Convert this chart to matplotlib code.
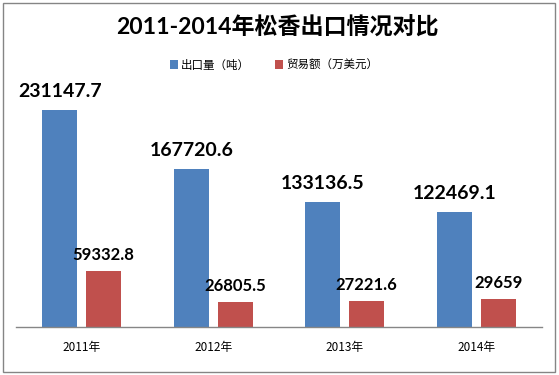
import matplotlib.pyplot as plt
import matplotlib.patches as mpatches
import numpy as np

years = ['2011年', '2012年', '2013年', '2014年']
export_qty = [231147.7, 167720.6, 133136.5, 122469.1]
trade_value = [59332.8, 26805.5, 27221.6, 29659]
qty_labels = ['231147.7', '167720.6', '133136.5', '122469.1']
value_labels = ['59332.8', '26805.5', '27221.6', '29659']

W, H = 559, 375
fig = plt.figure(figsize=(W / 100, H / 100), dpi=100)

# chart frame
frame = mpatches.Rectangle((3 / W, 1 - 372 / H), 552 / W, 369 / H, transform=fig.transFigure,
                           facecolor='white', edgecolor='#858585', lw=1.0, zorder=1)
fig.patches.append(frame)

ax = fig.add_axes([16 / W, 48 / H, 526 / W, 235 / H])
ax.set_facecolor('none')
ax.set_zorder(2)

x = np.arange(len(years))
bw = 0.266
off = 0.167
b1 = ax.bar(x - off, export_qty, bw, color='#4F81BD', label='出口量（吨）')
b2 = ax.bar(x + off, trade_value, bw, color='#C0504D', label='贸易额（万美元）')

for xi, v, s in zip(x, export_qty, qty_labels):
    ax.annotate(s, (xi - off, v), xytext=(0, 9.4), textcoords='offset points',
                ha='center', va='baseline', fontsize=14, fontweight='bold',
                family=['Lato', 'DejaVu Sans'])
for xi, v, s in zip(x, trade_value, value_labels):
    ax.annotate(s, (xi + off, v), xytext=(0, 7.9), textcoords='offset points',
                ha='center', va='baseline', fontsize=12, fontweight='bold',
                family=['Lato', 'DejaVu Sans'])

ax.set_xlim(-0.5, 3.5)
ax.set_ylim(0, 250000)
ax.set_yticks([])
ax.set_xticks(x)
ax.set_xticklabels(years, fontsize=8.5, family=['Noto Sans CJK SC'])
ax.tick_params(axis='x', length=0, pad=10)
for sp in ['top', 'left', 'right']:
    ax.spines[sp].set_visible(False)
ax.spines['bottom'].set_color('#868686')
ax.spines['bottom'].set_linewidth(1.0)

fig.text(277 / W, 1 - 28 / H, '2011-2014年松香出口情况对比', ha='center', va='center',
         fontsize=16.6, fontweight='bold', family=['Lato', 'Noto Sans CJK SC'])

# legend text in the reference is about 92 px wide for the second entry
renderer = fig.canvas.get_renderer()
probe = fig.text(0, 0, '贸易额（万美元）', fontsize=10, family='Noto Sans CJK SC')
leg_size = 10 * 92 / probe.get_window_extent(renderer).width
probe.remove()

fig.legend(handles=[b1, b2], loc='center', bbox_to_anchor=(274 / W, 1 - 65 / H), ncol=2,
           frameon=False, prop={'family': 'Noto Sans CJK SC', 'size': leg_size},
           handlelength=0.7, handleheight=0.7, handletextpad=0.25, columnspacing=2.2)

fig.savefig('out.png', dpi=100)
